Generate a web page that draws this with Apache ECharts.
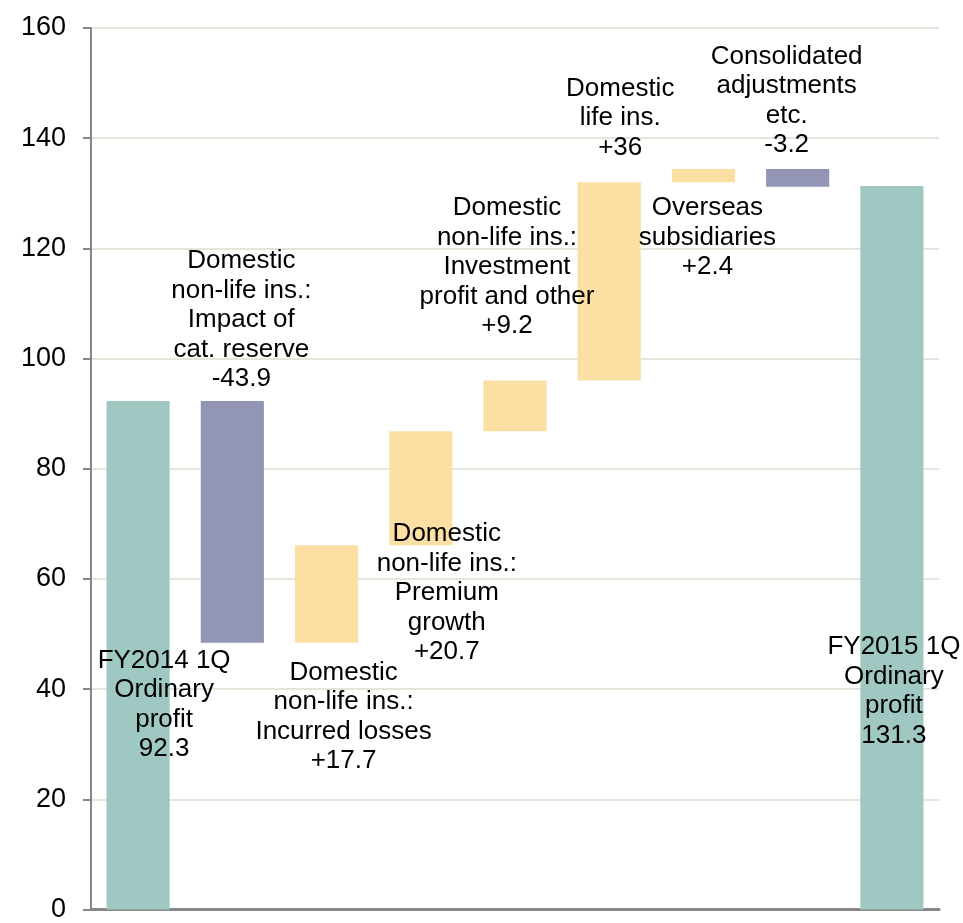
<!DOCTYPE html>
<html>
<head>
<meta charset="utf-8">
<script src="https://cdn.jsdelivr.net/npm/echarts@6/dist/echarts.min.js"></script>
<style>html,body{margin:0;padding:0;background:#fff}#c{width:963px;height:923px}</style>
</head>
<body>
<div id="c"></div>
<script>
var categories = ["FY2014 1Q", "Impact of cat. reserve", "Incurred losses", "Premium growth", "Investment profit and other", "Domestic life ins.", "Overseas subsidiaries", "Consolidated adjustments", "FY2015 1Q"];
var startValue = 92.3;
var deltas = [-43.9, 17.7, 20.7, 9.2, 36, 2.4, -3.2];
var endValue = 131.3;
var labelTexts = [
  "FY2014 1Q\nOrdinary\nprofit\n92.3",
  "Domestic\nnon-life ins.:\nImpact of\ncat. reserve\n-43.9",
  "Domestic\nnon-life ins.:\nIncurred losses\n+17.7",
  "Domestic\nnon-life ins.:\nPremium\ngrowth\n+20.7",
  "Domestic\nnon-life ins.:\nInvestment\nprofit and other\n+9.2",
  "Domestic\nlife ins.\n+36",
  "Overseas\nsubsidiaries\n+2.4",
  "Consolidated\nadjustments\netc.\n-3.2",
  "FY2015 1Q\nOrdinary\nprofit\n131.3"
];
var yTicks = [0, 20, 40, 60, 80, 100, 120, 140, 160];

var TEAL = "#A0C8C3", PURPLE = "#9395B5", YELLOW = "#FBDFA3";
// label placement (style only)
var labelPlace = [
  ["insideTop", [26, 245]],
  ["top", [9, -7]],
  ["bottom", [17, 15]],
  ["bottom", [26, -26]],
  ["top", [-8, -40]],
  ["top", [11, -20]],
  ["bottom", [4, 11]],
  ["top", [-11, -9]],
  ["insideTop", [2, 446]]
];

var baseData = [], barData = [];
var cum = startValue;
baseData.push(0);
barData.push({value: startValue, color: TEAL});
deltas.forEach(function (d) {
  var next = +(cum + d).toFixed(1);
  baseData.push(Math.min(cum, next));
  barData.push({value: Math.abs(d), color: d < 0 ? PURPLE : YELLOW});
  cum = next;
});
baseData.push(0);
barData.push({value: endValue, color: TEAL});

var font = "'Liberation Sans', Arial, sans-serif";
var items = barData.map(function (b, i) {
  return {
    value: b.value,
    itemStyle: {color: b.color},
    label: {
      show: true,
      position: labelPlace[i][0],
      offset: labelPlace[i][1],
      distance: 0,
      formatter: labelTexts[i],
      fontSize: 26,
      lineHeight: 29.5,
      color: "#000",
      fontFamily: font,
      align: "center"
    }
  };
});

var chart = echarts.init(document.getElementById("c"), null, {renderer: "canvas"});
chart.setOption({
  animation: false,
  backgroundColor: "#fff",
  grid: {left: 91, right: 24, top: 28, bottom: 8, containLabel: false},
  xAxis: {
    type: "category",
    data: categories,
    axisLine: {show: true, lineStyle: {color: "#878787", width: 3}},
    axisTick: {show: false},
    axisLabel: {show: false}
  },
  yAxis: {
    type: "value",
    min: yTicks[0],
    max: yTicks[yTicks.length - 1],
    interval: 20,
    axisLine: {show: true, lineStyle: {color: "#878787", width: 2}},
    axisTick: {show: true, length: 8, lineStyle: {color: "#878787", width: 2}},
    axisLabel: {fontSize: 27, color: "#000", fontFamily: font, margin: 25},
    splitLine: {show: true, lineStyle: {color: "#DCDDD0", width: 1.5}}
  },
  series: [
    {
      type: "bar",
      stack: "w",
      data: baseData,
      itemStyle: {color: "transparent"},
      barCategoryGap: "33%",
      silent: true
    },
    {
      type: "bar",
      stack: "w",
      data: items,
      barCategoryGap: "33%"
    }
  ]
});
</script>
</body>
</html>
